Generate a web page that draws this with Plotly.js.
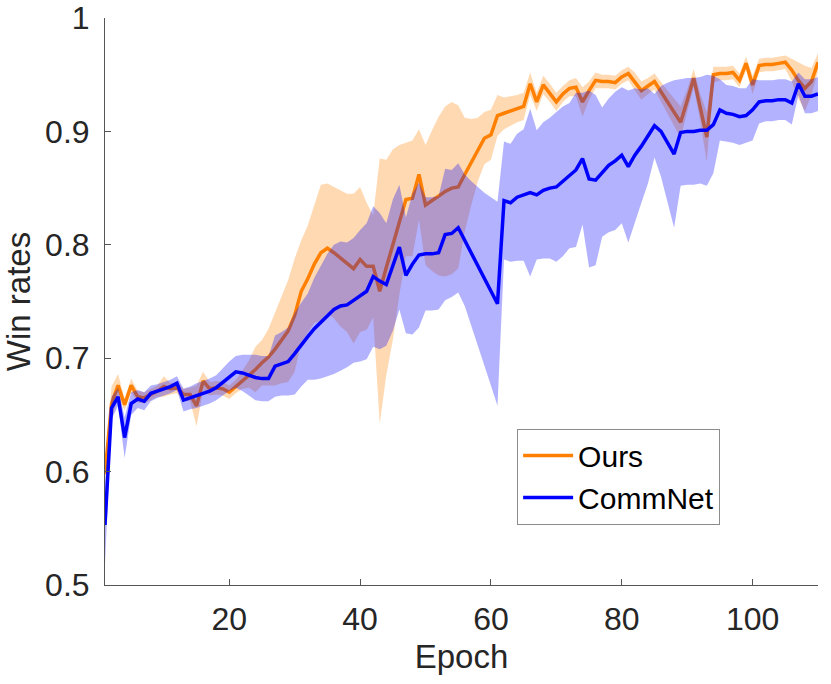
<!DOCTYPE html>
<html>
<head>
<meta charset="utf-8">
<script src="https://cdn.plot.ly/plotly-3.0.1.min.js"></script>
<style>
  html, body { margin: 0; padding: 0; background: #fff; }
  #chart { width: 831px; height: 684px; }
</style>
</head>
<body>
<div id="chart"></div>
<script>
// mean win rate per epoch
let oursMean = [
    0.598, 0.660, 0.676, 0.659, 0.676, 0.666, 0.665, 0.668, 0.671, 0.675,
    0.673, 0.674, 0.668, 0.668, 0.658, 0.680, 0.673, 0.674, 0.673, 0.670,
    0.675, 0.681, 0.686, 0.690, 0.696, 0.701, 0.708, 0.716, 0.724, 0.738,
    0.759, 0.770, 0.783, 0.793, 0.797, 0.793, 0.788, 0.784, 0.779, 0.787,
    0.781, 0.781, 0.759, 0.780, 0.800, 0.822, 0.840, 0.841, 0.862, 0.835,
    0.839, 0.843, 0.847, 0.850, 0.851, 0.862, 0.873, 0.884, 0.894, 0.897,
    0.914, 0.916, 0.918, 0.920, 0.922, 0.942, 0.926, 0.941, 0.934, 0.926,
    0.933, 0.938, 0.939, 0.926, 0.936, 0.945, 0.944, 0.944, 0.943, 0.948,
    0.951, 0.944, 0.936, 0.940, 0.944, 0.935, 0.926, 0.917, 0.908, 0.927,
    0.947, 0.921, 0.895, 0.950, 0.951, 0.951, 0.952, 0.945, 0.960, 0.941,
    0.958, 0.959, 0.959, 0.960, 0.961, 0.954, 0.945, 0.938, 0.944, 0.961
];
let oursStd = [
    0.008, 0.015, 0.010, 0.005, 0.006, 0.005, 0.005, 0.005, 0.005, 0.009,
    0.005, 0.005, 0.005, 0.006, 0.018, 0.008, 0.006, 0.006, 0.006, 0.006,
    0.006, 0.008, 0.012, 0.020, 0.020, 0.025, 0.032, 0.038, 0.045, 0.050,
    0.045, 0.047, 0.052, 0.060, 0.057, 0.058, 0.060, 0.061, 0.066, 0.064,
    0.056, 0.045, 0.117, 0.095, 0.084, 0.066, 0.050, 0.051, 0.040, 0.053,
    0.062, 0.070, 0.075, 0.076, 0.072, 0.050, 0.038, 0.028, 0.023, 0.022,
    0.018, 0.014, 0.013, 0.012, 0.012, 0.010, 0.008, 0.008, 0.008, 0.008,
    0.007, 0.007, 0.008, 0.013, 0.008, 0.007, 0.006, 0.006, 0.006, 0.006,
    0.006, 0.008, 0.008, 0.007, 0.007, 0.008, 0.010, 0.012, 0.014, 0.010,
    0.008, 0.012, 0.022, 0.007, 0.006, 0.006, 0.006, 0.006, 0.006, 0.008,
    0.006, 0.006, 0.006, 0.006, 0.006, 0.010, 0.016, 0.020, 0.012, 0.008
];
let commMean = [
    0.553, 0.656, 0.666, 0.630, 0.660, 0.664, 0.662, 0.669, 0.671, 0.673,
    0.675, 0.678, 0.663, 0.665, 0.667, 0.669, 0.671, 0.674, 0.679, 0.684,
    0.688, 0.687, 0.685, 0.683, 0.682, 0.682, 0.693, 0.695, 0.697, 0.704,
    0.712, 0.719, 0.726, 0.732, 0.738, 0.743, 0.746, 0.747, 0.751, 0.755,
    0.759, 0.772, 0.768, 0.765, 0.782, 0.798, 0.773, 0.783, 0.791, 0.792,
    0.792, 0.793, 0.809, 0.810, 0.815, 0.804, 0.793, 0.781, 0.770, 0.759,
    0.748, 0.839, 0.837, 0.842, 0.844, 0.846, 0.844, 0.848, 0.850, 0.851,
    0.856, 0.861, 0.866, 0.876, 0.858, 0.857, 0.864, 0.870, 0.874, 0.879,
    0.869, 0.879, 0.887, 0.896, 0.905, 0.900, 0.890, 0.880, 0.899, 0.900,
    0.900, 0.901, 0.901, 0.906, 0.919, 0.916, 0.915, 0.913, 0.914, 0.919,
    0.926, 0.927, 0.927, 0.928, 0.928, 0.925, 0.942, 0.931, 0.931, 0.933
];
let commStd = [
    0.035, 0.010, 0.008, 0.018, 0.010, 0.008, 0.008, 0.007, 0.006, 0.006,
    0.006, 0.006, 0.010, 0.010, 0.011, 0.011, 0.011, 0.011, 0.012, 0.013,
    0.014, 0.016, 0.018, 0.020, 0.020, 0.020, 0.027, 0.028, 0.030, 0.036,
    0.037, 0.038, 0.045, 0.050, 0.054, 0.057, 0.057, 0.055, 0.055, 0.058,
    0.060, 0.062, 0.060, 0.054, 0.058, 0.055, 0.051, 0.062, 0.064, 0.050,
    0.050, 0.050, 0.058, 0.056, 0.057, 0.058, 0.063, 0.070, 0.076, 0.083,
    0.090, 0.052, 0.052, 0.056, 0.058, 0.074, 0.057, 0.060, 0.062, 0.066,
    0.066, 0.064, 0.068, 0.058, 0.078, 0.075, 0.057, 0.059, 0.061, 0.060,
    0.067, 0.059, 0.050, 0.042, 0.028, 0.040, 0.053, 0.065, 0.047, 0.047,
    0.047, 0.047, 0.049, 0.043, 0.027, 0.025, 0.025, 0.025, 0.024, 0.027,
    0.019, 0.018, 0.018, 0.018, 0.018, 0.019, 0.010, 0.015, 0.015, 0.015
];
let seriesNames = ['Ours', 'CommNet'];
let xTicks = [20, 40, 60, 80, 100];
let yTicks = [0.5, 0.6, 0.7, 0.8, 0.9, 1];

let epochs = oursMean.map((v, i) => i + 1);

// closed polygon mean+std forward, mean-std backward
function band(mean, std, color) {
    let upper = mean.map((m, i) => m + std[i]);
    let lower = mean.map((m, i) => m - std[i]);
    return {
        x: epochs.concat(epochs.slice().reverse()),
        y: upper.concat(lower.reverse()),
        fill: 'toself',
        fillcolor: color,
        line: {width: 0},
        mode: 'lines',
        hoverinfo: 'skip',
        showlegend: false
    };
}

let oursBand = band(oursMean, oursStd, 'rgba(255,128,0,0.3)');
let oursLine = {
    x: epochs,
    y: oursMean,
    mode: 'lines',
    name: seriesNames[0],
    line: {color: 'rgb(255,128,0)', width: 3.5}
};
let commBand = band(commMean, commStd, 'rgba(0,0,255,0.3)');
let commLine = {
    x: epochs,
    y: commMean,
    mode: 'lines',
    name: seriesNames[1],
    line: {color: 'rgb(0,0,255)', width: 3.5}
};

let family = 'Liberation Sans, Arial, sans-serif';
let tickFont = {family: family, size: 32, color: '#262626'};
let titleFont = {family: family, size: 33, color: '#262626'};

let layout = {
    width: 831,
    height: 684,
    margin: {l: 105, r: 13, t: 18, b: 99},
    paper_bgcolor: '#fff',
    plot_bgcolor: '#fff',
    font: tickFont,
    showlegend: true,
    legend: {
        x: 0.578, y: 0.276, xanchor: 'left', yanchor: 'top',
        bgcolor: '#fff', bordercolor: '#8c8c8c', borderwidth: 1,
        font: {family: family, size: 30, color: '#000'},
        itemwidth: 50,
        tracegroupgap: 0
    },
    xaxis: {
        range: [1, 110],
        tickvals: xTicks,
        tickfont: tickFont,
        ticks: 'inside', ticklen: 6, tickcolor: '#555',
        showline: true, linecolor: '#555', linewidth: 1,
        showgrid: false, zeroline: false,
        ticklabelstandoff: 6,
        title: {text: 'Epoch', font: titleFont, standoff: 8}
    },
    yaxis: {
        range: [0.5, 1],
        tickvals: yTicks,
        ticktext: yTicks.map(String),
        tickfont: tickFont,
        ticks: 'inside', ticklen: 6, tickcolor: '#555',
        showline: true, linecolor: '#555', linewidth: 1,
        showgrid: false, zeroline: false,
        ticklabelstandoff: 8,
        title: {text: 'Win rates', font: titleFont, standoff: 10}
    }
};

Plotly.newPlot('chart', [oursBand, oursLine, commBand, commLine], layout, {staticPlot: true});
</script>
</body>
</html>
